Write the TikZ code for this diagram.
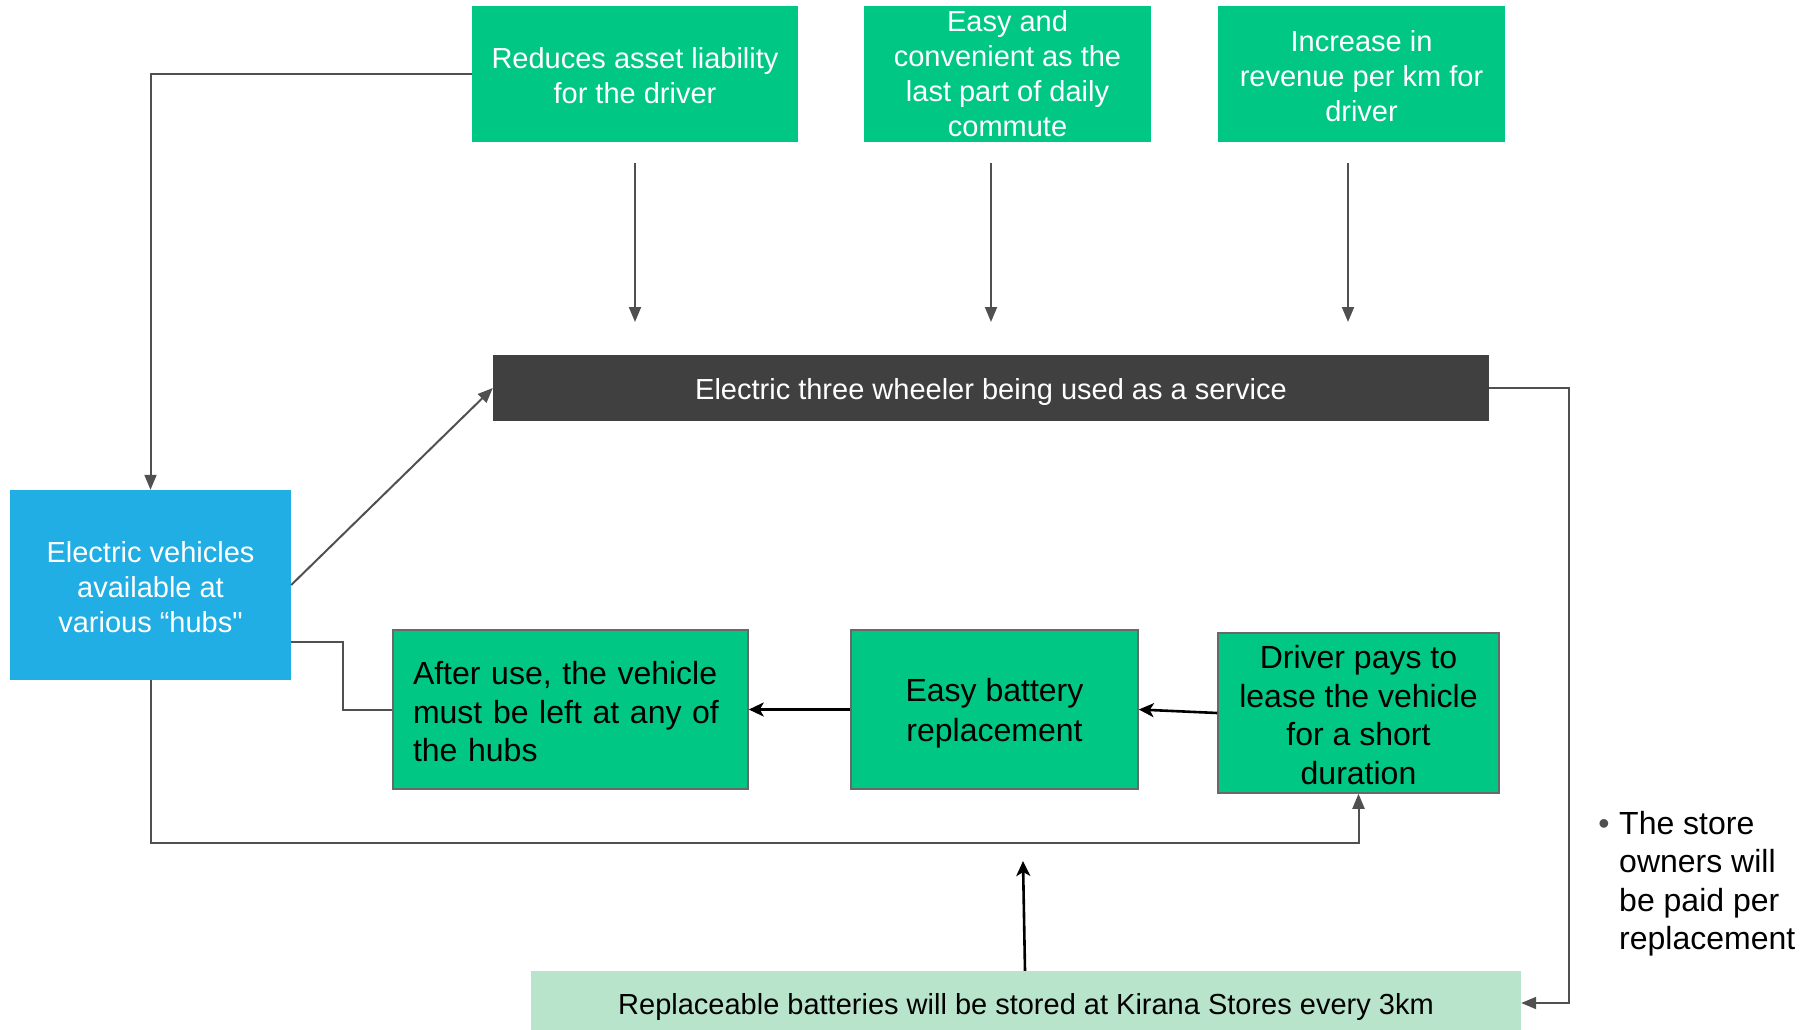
\documentclass[tikz,border=0pt]{standalone}
\usepackage{fontspec}
\setmainfont{Liberation Sans}
\newfontfamily\plainquote{Liberation Sans}
\usetikzlibrary{arrows.meta,calc}
\definecolor{boxgreen}{RGB}{0,199,132}
\definecolor{boxblue}{RGB}{32,174,229}
\definecolor{boxdark}{RGB}{64,64,64}
\definecolor{boxlight}{RGB}{183,228,202}
\definecolor{linegray}{RGB}{80,80,80}
\definecolor{bordergray}{RGB}{105,105,105}
\newcommand{\mystrutA}{\rule{0pt}{25pt}}
\newcommand{\mystrutB}{\rule{0pt}{27.5pt}}
\newcommand{\mystrutC}{\rule{0pt}{31pt}}
\begin{document}
\begin{tikzpicture}[x=1pt,y=-1pt,
  fsmall/.style={font=\fontsize{29}{35}\selectfont},
  fbig/.style={font=\fontsize{32}{38.5}\selectfont},
  topbox/.style={fill=boxgreen, text=white, align=center, fsmall, inner sep=0pt, minimum height=136pt},
  flowbox/.style={fill=boxgreen, draw=bordergray, line width=1.5pt, text=black, fbig, inner sep=0pt},
  gline/.style={draw=linegray, line width=2pt},
  garrow/.style={gline, -{Triangle[length=15pt,width=12pt]}},
  barrow/.style={draw=black, line width=2.6pt, -{Stealth[length=15pt,width=14pt,inset=4pt]}}
]
\useasboundingbox (0,0) rectangle (1810,1030);

% top boxes
\node[topbox, minimum width=326pt] (b1) at (635,74) {\mystrutA Reduces asset liability\\for the driver};
\node[topbox, minimum width=287pt] (b2) at (1007.5,74) {Easy and\\convenient as the\\last part of daily\\commute};
\node[topbox, minimum width=287pt] (b3) at (1361.5,74) {\mystrutA Increase in\\revenue per km for\\driver};

% central dark bar
\node[fill=boxdark, text=white, fsmall, inner sep=0pt, text height=28pt, text depth=6pt, minimum width=996pt, minimum height=66pt] (dark) at (991,388) {Electric three wheeler being used as a service};

% blue hub box
\node[fill=boxblue, text=white, align=center, fsmall, inner sep=0pt, minimum width=281pt, minimum height=190pt] (blue) at (150.5,585) {\mystrutA Electric vehicles\\available at\\various “hubs{\plainquote"}};

% flow boxes
\node[flowbox, align=left, text width=315pt, minimum width=355pt, minimum height=159pt] (b4) at (570.5,709.5) {\mystrutB After use, the vehicle\\must be left at any of\\the hubs};
\node[flowbox, align=center, minimum width=287pt, minimum height=159pt, font=\fontsize{32}{39.5}\selectfont] (b5) at (994.5,709.5) {\mystrutC Easy battery\\replacement};
\node[flowbox, align=center, minimum width=281pt, minimum height=160pt] (b6) at (1358.5,713) {\mystrutB Driver pays to\\lease the vehicle\\for a short\\duration};

% bottom box
\node[fill=boxlight, text=black, fsmall, inner sep=0pt, text height=28pt, text depth=6pt, minimum width=990pt, minimum height=64pt] (bot) at (1026,1003) {Replaceable batteries will be stored at Kirana Stores every 3km};

% note
\node[anchor=base, text=linegray, fbig, inner sep=0pt] (bul) at (1604,834) {•};
\node[anchor=north west, align=left, fbig, inner sep=0pt] (note) at (1619,811) {The store\\owners will\\be paid per\\replacement};

% coordinates for free arrows
\coordinate (a1s) at (635,163);  \coordinate (a1e) at (635,322);
\coordinate (a2s) at (991,163);  \coordinate (a2e) at (991,322);
\coordinate (a3s) at (1348,163); \coordinate (a3e) at (1348,322);
\coordinate (upend) at (1023,861);

% connectors
\draw[garrow] (a1s) -- (a1e);
\draw[garrow] (a2s) -- (a2e);
\draw[garrow] (a3s) -- (a3e);
\draw[garrow] (b1.west) -| (blue.north);
\draw[garrow] (blue.east) -- (dark.west);
\draw[gline] ([yshift=-57pt]blue.east) -- ++(52,0) |- (b4.west);
\draw[barrow] (b5.west) -- (b4.east);
\draw[barrow] (b6.west) -- (b5.east);
\draw[garrow] (blue.south) -- ++(0,163) -| (b6.south);
\draw[barrow] ([xshift=-1pt]bot.north) -- (upend);
\draw[garrow] (dark.east) -- ++(80,0) |- (bot.east);
\end{tikzpicture}
\end{document}
